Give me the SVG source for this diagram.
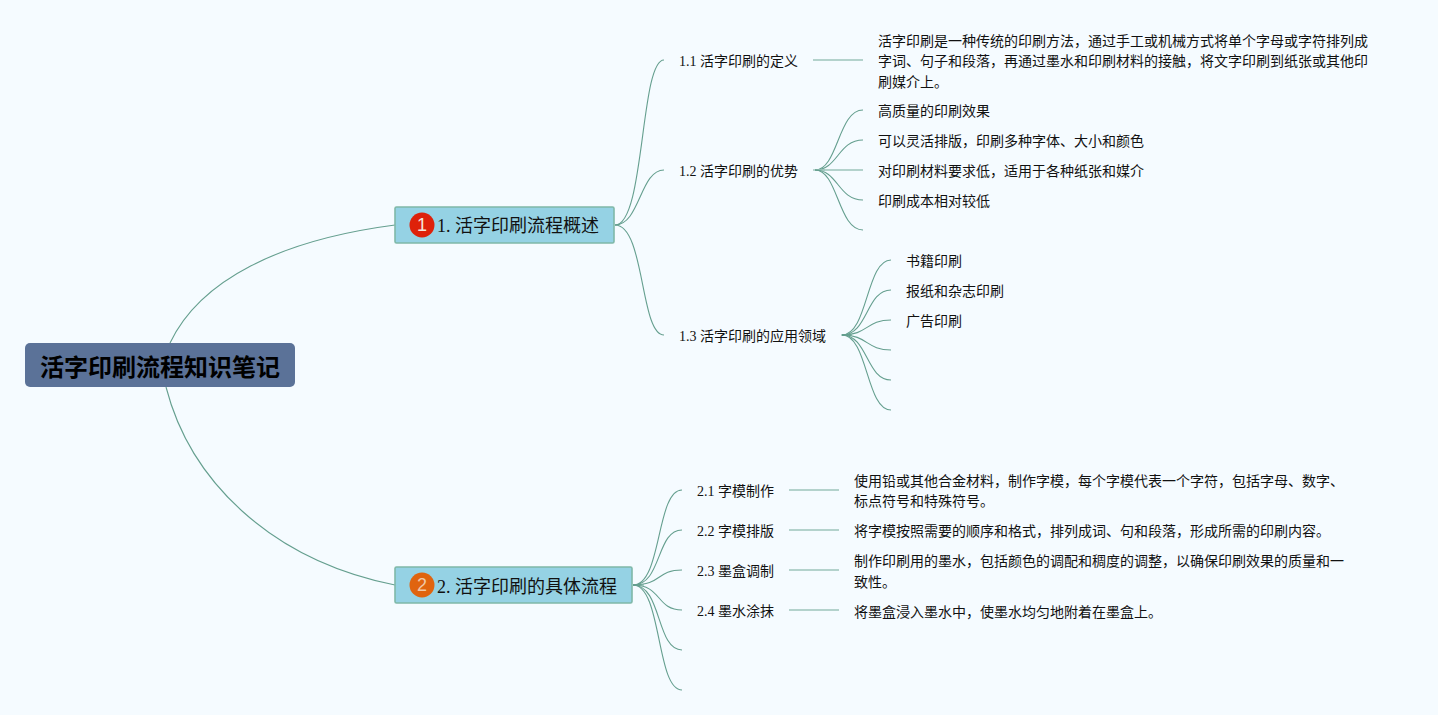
<svg xmlns="http://www.w3.org/2000/svg" width="1438" height="715" viewBox="0 0 1438 715">
<style>
text{font-family:"Liberation Serif","Noto Sans CJK SC",serif;fill:#111}
.t{font-size:14px}
.m{font-size:18px}
.k{fill:none;stroke:#659f8f;stroke-width:1.1}
.s{fill:none;stroke:#9cc4bb;stroke-width:1.4}
.b{fill:#95d2e4;stroke:#7fb8a8;stroke-width:1.6}
</style>
<rect width="1438" height="715" fill="#f5fbff"/>
<g id="connectors">
<path class="k" d="M170 343C200 280 280 240 395 225"/>
<path class="k" d="M166 387C190 480 270 560 395 585"/>
<path class="k" d="M615 225C645 225 640 60 664 60"/>
<path class="k" d="M615 225C640 225 640 170 664 170"/>
<path class="k" d="M615 225C645 225 640 335 664 335"/>
<path class="s" d="M813 60H863"/>
<path class="s" d="M813 170H825"/>
<path class="k" d="M815 170C838 170 838 110 863 110"/>
<path class="k" d="M815 170C838 170 838 140 863 140"/>
<path class="s" d="M815 170H863"/>
<path class="k" d="M815 170C838 170 838 200 863 200"/>
<path class="k" d="M815 170C838 170 838 230 863 230"/>
<path class="s" d="M841 335H852"/>
<path class="k" d="M842 335C868 335 866 260 891 260"/>
<path class="k" d="M842 335C868 335 866 290 891 290"/>
<path class="k" d="M842 335C868 335 866 320 891 320"/>
<path class="k" d="M842 335C868 335 866 350 891 350"/>
<path class="k" d="M842 335C868 335 866 380 891 380"/>
<path class="k" d="M842 335C868 335 866 410 891 410"/>
<path class="s" d="M633 585H644"/>
<path class="k" d="M633 585C662 585 656 490 682 490"/>
<path class="k" d="M633 585C662 585 656 530 682 530"/>
<path class="k" d="M633 585C662 585 656 570 682 570"/>
<path class="k" d="M633 585C662 585 656 610 682 610"/>
<path class="k" d="M633 585C662 585 656 650 682 650"/>
<path class="k" d="M633 585C662 585 656 690 682 690"/>
<path class="s" d="M789 490H839"/>
<path class="s" d="M789 530H839"/>
<path class="s" d="M789 570H839"/>
<path class="s" d="M789 610H839"/>
</g>
<g id="root"><rect x="25" y="343" width="270" height="44" rx="5" fill="#5b7298"/><text x="160" y="376" text-anchor="middle" style="font-family:'Noto Sans CJK SC',sans-serif;font-size:24px;font-weight:700;fill:#000">活字印刷流程知识笔记</text></g>
<g id="n1"><rect class="b" x="395" y="207" width="219" height="36" rx="1.5"/><circle cx="422" cy="225" r="12.5" fill="#de210a"/><text x="422" y="231" text-anchor="middle" class="m" style="fill:#f4e6dc;font-family:'Liberation Sans',sans-serif">1</text><text x="437" y="232" class="m">1. 活字印刷流程概述</text></g>
<g id="n2"><rect class="b" x="395" y="567" width="237" height="36" rx="1.5"/><circle cx="422" cy="585" r="12.5" fill="#e0640f"/><text x="422" y="591" text-anchor="middle" class="m" style="fill:#f0c9a8;font-family:'Liberation Sans',sans-serif">2</text><text x="437" y="593" class="m">2. 活字印刷的具体流程</text></g>
<g id="n11"><text x="679" y="66" class="t">1.1 活字印刷的定义</text></g>
<g id="n12"><text x="679" y="176" class="t">1.2 活字印刷的优势</text></g>
<g id="n13"><text x="679" y="341" class="t">1.3 活字印刷的应用领域</text></g>
<g id="n111"><text x="878" y="46" class="t">活字印刷是一种传统的印刷方法，通过手工或机械方式将单个字母或字符排列成</text><text x="878" y="66" class="t">字词、句子和段落，再通过墨水和印刷材料的接触，将文字印刷到纸张或其他印</text><text x="878" y="87" class="t">刷媒介上。</text></g>
<g id="n121"><text x="878" y="116" class="t">高质量的印刷效果</text></g>
<g id="n122"><text x="878" y="146" class="t">可以灵活排版，印刷多种字体、大小和颜色</text></g>
<g id="n123"><text x="878" y="176" class="t">对印刷材料要求低，适用于各种纸张和媒介</text></g>
<g id="n124"><text x="878" y="206" class="t">印刷成本相对较低</text></g>
<g id="n131"><text x="906" y="266" class="t">书籍印刷</text></g>
<g id="n132"><text x="906" y="296" class="t">报纸和杂志印刷</text></g>
<g id="n133"><text x="906" y="326" class="t">广告印刷</text></g>
<g id="n21"><text x="697" y="496" class="t">2.1 字模制作</text></g>
<g id="n22"><text x="697" y="536" class="t">2.2 字模排版</text></g>
<g id="n23"><text x="697" y="576" class="t">2.3 墨盒调制</text></g>
<g id="n24"><text x="697" y="616" class="t">2.4 墨水涂抹</text></g>
<g id="n211"><text x="854" y="486" class="t">使用铅或其他合金材料，制作字模，每个字模代表一个字符，包括字母、数字、</text><text x="854" y="506" class="t">标点符号和特殊符号。</text></g>
<g id="n221"><text x="854" y="536" class="t">将字模按照需要的顺序和格式，排列成词、句和段落，形成所需的印刷内容。</text></g>
<g id="n231"><text x="854" y="566" class="t">制作印刷用的墨水，包括颜色的调配和稠度的调整，以确保印刷效果的质量和一</text><text x="854" y="587" class="t">致性。</text></g>
<g id="n241"><text x="854" y="617" class="t">将墨盒浸入墨水中，使墨水均匀地附着在墨盒上。</text></g>
</svg>
